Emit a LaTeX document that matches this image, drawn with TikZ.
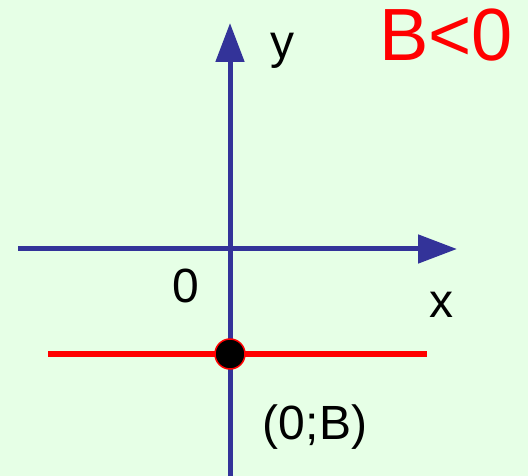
\documentclass[tikz,border=0pt]{standalone}
\usepackage{fontspec}
\setmainfont{Liberation Sans}
\usepackage{tikz}
\usetikzlibrary{arrows.meta}
\definecolor{axisblue}{HTML}{333399}
\definecolor{bggreen}{HTML}{E6FFE6}

\begin{document}
\begin{tikzpicture}[x=1pt, y=-1pt,
    axis/.style={draw=axisblue, line width=5pt, -{Triangle[length=39pt,width=28pt]}},
    lbl/.style={font=\fontsize{48}{52}\selectfont, inner sep=0pt}]
    \fill[bggreen] (0,0) rectangle (528,476);
    \useasboundingbox (0,0) rectangle (528,476);
    \coordinate (xl) at (18,249);
    \coordinate (xr) at (457,249);
    \coordinate (yb) at (230,476);
    \coordinate (yt) at (230,23);
    \coordinate (hl) at (48,354);
    \coordinate (hr) at (427,354);
    \draw[axis] (xl) -- (xr);
    \draw[axis] (yb) -- (yt);
    \draw[red, line width=6pt] (hl) -- (hr);
    \node[circle, fill=black, draw=red, line width=1.5pt,
        minimum size=30pt, inner sep=0pt] (pt) at (230,354) {};
    \node[lbl] (ylabel) at (282,51) {y};
    \node[lbl] (xlabel) at (441,305) {x};
    \node[lbl] (origin) at (186,286) {0};
    \node[lbl] (ptlabel) at (315,427) {(0;B)};
    \node[lbl, text=red, font=\fontsize{74}{78}\selectfont] (cond) at (446,35) {B<0};
\end{tikzpicture}
\end{document}
